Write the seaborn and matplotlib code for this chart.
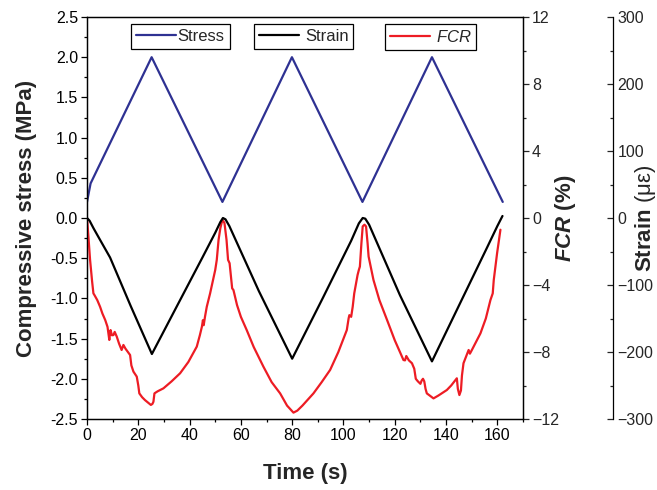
import numpy as np
import pandas as pd
import matplotlib
matplotlib.use("Agg")
import matplotlib.pyplot as plt
from matplotlib.ticker import MultipleLocator
import seaborn as sns

# Stress (MPa), left axis
t_stress = [0, 1.4, 25.2, 52.8, 79.9, 107.4, 134.5, 162.1]
stress = [0.2, 0.43, 2.0, 0.2, 2.0, 0.2, 2.0, 0.2]

# Strain (micro-strain), outer right axis
t_strain = [0, 1, 2.5, 5, 9, 17, 25.3, 35, 45, 50, 52, 53, 54, 55.5, 67, 80,
            92, 103, 106, 107.5, 108.5, 110, 122, 134.5, 146, 156, 160, 162]
strain = [0, -4, -15, -32, -59, -131, -203, -132, -59, -22, -6, 0, -2, -12, -109, -210,
          -119, -34, -8, 0, -1, -10, -115, -214, -123, -44, -12, 3]

# FCR (%), inner right axis
t_fcr = [0, 0.5, 1.2, 2, 2.5, 2.9, 4, 5.1, 6.0, 7.1, 8, 8.7, 9.0, 9.2, 9.7, 10.3, 10.8,
         11.6, 12.5, 13.5, 14.2, 15, 16.8, 17.3, 18.1, 19.4, 20, 20.4, 21.5, 22.6, 24,
         24.9, 25.5, 25.9, 26.3, 27.5, 29.8, 33, 36.3, 39.5, 42.8, 44, 44.8, 45.2, 45.5,
         46, 46.7, 48, 49, 50, 50.6, 51.3, 52, 52.8, 53.6, 54.4, 55.0, 55.6, 56.2, 56.6,
         57.1, 58.5, 60, 62.3, 65, 68.8, 72, 75.3, 78, 80.5, 82, 84, 88.3, 91.5, 94.8,
         98, 101.3, 102, 102.3, 103, 103.6, 104.2, 105.5, 106, 106.4, 107, 107.5, 108.2,
         108.8, 109.4, 109.8, 111.7, 114, 117, 120, 123.4, 124.0, 124.5, 125.5, 126.7,
         127.6, 128.2, 129, 130, 130.5, 131, 131.5, 132, 132.5, 135.1, 137, 140.3, 142,
         144.2, 144.6, 145.2, 145.8, 146.2, 146.8, 148, 148.8, 149.3, 150, 153.4, 155.5,
         157.3, 158.2, 158.6, 159.9, 161.2]
fcr = [0, -1.0, -2.5, -3.8, -4.5, -4.6, -4.9, -5.3, -5.7, -6.09, -6.5, -7.28, -6.8, -6.69,
       -7.0, -6.99, -6.8, -7.08, -7.5, -7.88, -7.58, -7.8, -8.18, -8.8, -9.17, -9.47,
       -10.0, -10.47, -10.7, -10.87, -11.05, -11.16, -11.1, -10.97, -10.47, -10.35,
       -10.17, -9.75, -9.27, -8.6, -7.68, -7.0, -6.49, -6.1, -6.4, -5.9, -5.3, -4.5,
       -3.8, -3.1, -2.5, -1.3, -0.6, -0.1, -0.3, -1.3, -2.5, -2.7, -3.6, -4.2, -4.3,
       -5.2, -5.9, -6.7, -7.7, -8.88, -9.8, -10.47, -11.2, -11.62, -11.5, -11.2, -10.47,
       -9.8, -9.07, -8.0, -6.69, -6.0, -5.8, -5.9, -5.3, -4.5, -3.4, -3.1, -2.9, -1.5,
       -0.5, -0.4, -0.5, -1.5, -2.3, -3.7, -4.9, -6.09, -7.3, -8.48, -8.5, -8.24, -8.5,
       -8.67, -9.0, -9.6, -9.75, -9.9, -9.7, -9.6, -9.75, -10.2, -10.47, -10.77, -10.6,
       -10.27, -10.0, -9.57, -10.2, -10.57, -10.3, -9.4, -8.67, -8.2, -7.88, -8.1, -7.9,
       -6.89, -6.0, -4.9, -4.5, -3.7, -2.1, -0.7]

stress_df = pd.DataFrame({"Time": t_stress, "Stress": stress})
strain_df = pd.DataFrame({"Time": t_strain, "Strain": strain})
fcr_df = pd.DataFrame({"Time": t_fcr, "FCR": fcr})

sns.set_style("ticks")
plt.rcParams['font.family'] = ['Liberation Sans', 'DejaVu Sans']
plt.rcParams['mathtext.fontset'] = 'custom'
plt.rcParams['mathtext.rm'] = 'Liberation Sans'
plt.rcParams['mathtext.it'] = 'Liberation Sans:italic'
plt.rcParams['mathtext.bf'] = 'Liberation Sans:bold'
plt.rcParams['mathtext.bfit'] = 'Liberation Sans:italic:bold'

c_stress = '#2E3192'
c_strain = 'black'
c_fcr = '#ED1C24'
tick_fs = 11.5
label_fs = 16

fig = plt.figure(figsize=(6.57, 4.9), dpi=100)
ax = fig.add_axes([87 / 657, 1 - 419 / 490, 436 / 657, 402 / 490])
ax2 = ax.twinx()
ax3 = ax.twinx()

sns.lineplot(data=stress_df, x="Time", y="Stress", ax=ax, color=c_stress, lw=1.6,
             legend=False, sort=False)
sns.lineplot(data=fcr_df, x="Time", y="FCR", ax=ax2, color=c_fcr, lw=1.6,
             legend=False, sort=False)
sns.lineplot(data=strain_df, x="Time", y="Strain", ax=ax3, color=c_strain, lw=1.6,
             legend=False, sort=False)

ax.set_xlim(0, 170)
ax.set_ylim(-2.5, 2.5)
ax2.set_ylim(-12, 12)
ax3.set_ylim(-300, 300)

ax.xaxis.set_major_locator(MultipleLocator(20))
ax.xaxis.set_minor_locator(MultipleLocator(10))
ax.yaxis.set_major_locator(MultipleLocator(0.5))
ax.yaxis.set_minor_locator(MultipleLocator(0.25))
ax.yaxis.set_major_formatter(matplotlib.ticker.FormatStrFormatter('%.1f'))
ax2.yaxis.set_major_locator(MultipleLocator(4))
ax2.yaxis.set_minor_locator(MultipleLocator(2))
ax3.yaxis.set_major_locator(MultipleLocator(100))
ax3.yaxis.set_minor_locator(MultipleLocator(50))

for a in (ax, ax2, ax3):
    for s in a.spines.values():
        s.set_linewidth(0.9)
        s.set_color('black')

ax.tick_params(which='both', direction='out', labelsize=tick_fs, width=0.9, colors='black',
               top=False, right=False, pad=2)
ax.tick_params(which='major', length=4.5)
ax.tick_params(which='minor', length=2.5)
ax2.tick_params(which='both', direction='out', labelsize=tick_fs, width=0.9, pad=2)
ax2.tick_params(which='major', length=4.5)
ax2.tick_params(which='minor', length=2.5)

ax3.spines['right'].set_position(('outward', 65))
for side in ('top', 'left', 'bottom'):
    ax3.spines[side].set_visible(False)
ax3.tick_params(which='both', direction='in', labelsize=tick_fs, width=0.9, pad=3)
ax3.tick_params(which='major', length=4.5)
ax3.tick_params(which='minor', length=2.5)

ax.set_xlabel("Time (s)", fontsize=label_fs, fontweight='bold')
ax.set_ylabel("Compressive stress (MPa)", fontsize=label_fs, fontweight='bold')
ax2.set_ylabel(r"$\mathbfit{FCR}$ (%)", fontsize=label_fs, fontweight='bold')
ax3.set_ylabel(r"$\mathbf{Strain}$ (με)", fontsize=label_fs)
ax.xaxis.set_label_coords(0.5, (419 - 463) / 402)
ax.yaxis.set_label_coords((37 - 87) / 436, 0.5)
ax2.yaxis.set_label_coords((553 - 87) / 436, 0.5)
ax3.yaxis.set_label_coords((633 - 87) / 436, 0.5)

leg_kw = dict(loc='upper left', fontsize=12, frameon=True, fancybox=False,
              edgecolor='black', framealpha=1, borderpad=0.3, handlelength=2.4,
              borderaxespad=0)
legs = [
    fig.legend([ax.lines[0]], ["Stress"], bbox_to_anchor=(131 / 657, 1 - 24 / 490),
               handletextpad=0.1, **leg_kw),
    fig.legend([ax3.lines[0]], ["Strain"], bbox_to_anchor=(254 / 657, 1 - 24 / 490),
               handletextpad=0.35, **leg_kw),
    fig.legend([ax2.lines[0]], [r"$\mathit{FCR}$"], bbox_to_anchor=(385 / 657, 1 - 24 / 490),
               handletextpad=0.35, **leg_kw),
]
for lg in legs:
    lg.get_frame().set_linewidth(0.9)

fig.savefig("out.png", dpi=100)
